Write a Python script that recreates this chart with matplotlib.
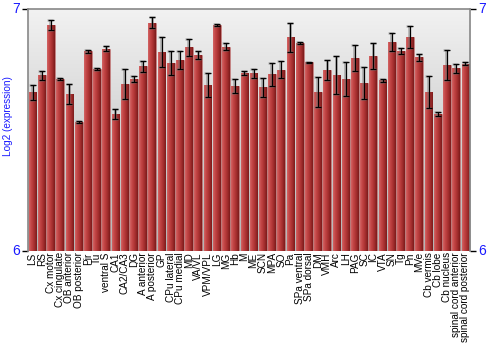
import numpy as np
import matplotlib
matplotlib.use('Agg')
import matplotlib.pyplot as plt
from matplotlib.colors import LinearSegmentedColormap

plt.rcParams['font.family'] = ['Liberation Sans', 'DejaVu Sans']

regions = ["LS", "RS", "Cx motor", "Cx cingulate", "OB anterior", "OB posterior",
           "Pir", "Tu", "ventral S", "CA1", "CA2/CA3", "DG", "A anterior",
           "A posterior", "GP", "CPu lateral", "CPu medial", "MD", "VA/VL",
           "VPM/VPL", "LG", "MG", "Hb", "M", "ME", "SCN", "MPA", "SO", "Pa",
           "SPa ventral", "SPa dorsal", "DM", "VMH", "Arc", "LH", "PAG", "SC",
           "IC", "VTA", "SN", "Tg", "Pn", "MVe", "Cb vermis", "Cb lobe",
           "Cb nucleus", "spinal cord anterior", "spinal cord posterior"]
expression = [6.657, 6.727, 6.933, 6.711, 6.649, 6.533, 6.825, 6.752, 6.836,
              6.566, 6.689, 6.711, 6.764, 6.943, 6.822, 6.776, 6.790, 6.843,
              6.811, 6.686, 6.934, 6.844, 6.682, 6.734, 6.734, 6.676, 6.731,
              6.749, 6.883, 6.860, 6.780, 6.657, 6.748, 6.727, 6.711, 6.796,
              6.694, 6.806, 6.705, 6.865, 6.828, 6.884, 6.800, 6.656, 6.566,
              6.767, 6.755, 6.774]
error = [0.031, 0.019, 0.020, 0.004, 0.040, 0.004, 0.006, 0.003, 0.010,
         0.019, 0.062, 0.012, 0.023, 0.023, 0.062, 0.050, 0.037, 0.035,
         0.017, 0.050, 0.005, 0.015, 0.027, 0.008, 0.019, 0.040, 0.048,
         0.035, 0.060, 0.005, 0.003, 0.062, 0.040, 0.080, 0.072, 0.054,
         0.066, 0.054, 0.006, 0.037, 0.012, 0.045, 0.015, 0.066, 0.008,
         0.062, 0.019, 0.006]

fig = plt.figure(figsize=(5, 3.5), dpi=100)
ax = fig.add_axes([0.056, 0.283, 0.884, 0.691])

n = len(regions)
x = np.arange(n)
ax.set_xlim(-0.5, n - 0.5)
ax.set_ylim(6, 7)

# background gradient, light at top
bg = np.linspace(0, 1, 256).reshape(-1, 1)
bg_cmap = LinearSegmentedColormap.from_list("bg", ["#b4b4b4", "#f2f2f2"])
ax.imshow(bg, extent=[-0.5, n - 0.5, 6, 7], origin='lower', aspect='auto',
          cmap=bg_cmap, zorder=0)

# shaded bars
bar_cmap = LinearSegmentedColormap.from_list(
    "bar", ["#d26464", "#c44848", "#b43838", "#9c2a2a", "#7c1c1c"])
shade = np.linspace(0, 1, 32).reshape(1, -1)
w = 0.84
bars = ax.bar(x, [v - 6 for v in expression], width=w, bottom=6,
              color="#b03434", edgecolor="#c08080", linewidth=0.4, zorder=2)
for xi, v, b in zip(x, expression, bars):
    im = ax.imshow(shade, extent=[xi - w / 2, xi + w / 2, 6, v], aspect='auto',
                   cmap=bar_cmap, zorder=2.5)
    im.set_clip_path(b)

# error bars with a soft shadow
ax.errorbar(x - 0.08, expression, yerr=error, fmt='none', ecolor='#808080',
            elinewidth=2.0, capsize=2.5, capthick=1.8, alpha=0.5, zorder=3)
ax.errorbar(x, expression, yerr=error, fmt='none', ecolor='black',
            elinewidth=0.9, capsize=2.3, capthick=0.9, zorder=4)

ax.set_xticks(x)
ax.set_xticklabels(regions, rotation=90, fontsize=7.2)
ax.tick_params(axis='x', length=0, pad=1)

ax.set_yticks([6, 7])
ax.set_yticklabels(["6", "7"])
ax.tick_params(axis='y', which='both', left=True, right=True, labelleft=True,
               labelright=True, labelsize=10, labelcolor='#1a1aff',
               length=4, width=1, color='black', pad=2)
for lab in ax.get_yticklabels():
    lab.set_verticalalignment('center')

fig.text(8 / 500, 1 - 116 / 350, "Log2 (expression)", color='#1a1aff',
         fontsize=7.2, rotation=90, ha='center', va='center')

for side in ['left', 'right', 'top']:
    ax.spines[side].set_color('#888888')
    ax.spines[side].set_linewidth(1.2)
ax.spines['bottom'].set_visible(False)

fig.savefig("out.png", dpi=100)
